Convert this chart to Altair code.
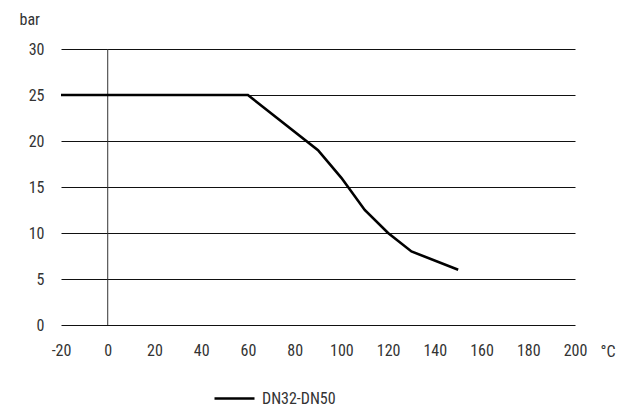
import altair as alt
import pandas as pd

temps = [-20, 60, 90, 100, 110, 120, 130, 150]
pressure = [25, 25, 19, 16, 12.5, 10, 8, 6]
series = "DN32-DN50"
x_ticks = [-20, 0, 20, 40, 60, 80, 100, 120, 140, 160, 180, 200]
y_ticks = [0, 5, 10, 15, 20, 25, 30]

df = pd.DataFrame({"t": temps, "p": pressure, "s": [series] * len(temps)})
zero = pd.DataFrame({"x": [0], "y0": [0], "y1": [30]})

FONT = "Roboto Condensed, DejaVu Sans Condensed, Roboto, sans-serif"
TXT = "#333333"
FS = 16

vline = alt.Chart(zero).mark_rule(color="#333333", strokeWidth=1).encode(
    x=alt.X("x:Q"), y=alt.Y("y0:Q"), y2="y1:Q"
)

line = alt.Chart(df).mark_line(strokeWidth=2.6).encode(
    x=alt.X("t:Q", scale=alt.Scale(domain=[-20, 200], nice=False),
            axis=alt.Axis(values=x_ticks, title="°C", grid=False, ticks=False, domain=False,
                          labelFlush=False,
                          labelExpr="datum.value < 0 ? '-' + abs(datum.value) : '' + datum.value",
                          labelPadding=17, labelFontSize=FS, labelColor=TXT, labelFont=FONT,
                          titleFont=FONT, titleFontSize=FS, titleColor=TXT, titleFontWeight="normal",
                          titleAngle=0, titleX=539, titleY=26, titleAlign="left", titleBaseline="middle")),
    y=alt.Y("p:Q", scale=alt.Scale(domain=[0, 30], nice=False),
            axis=alt.Axis(values=y_ticks, title="bar", grid=True, gridColor="#111111", gridWidth=1,
                          ticks=False, domain=False, labelPadding=17, labelFontSize=FS,
                          labelColor=TXT, labelFont=FONT, titleFont=FONT, titleFontSize=FS,
                          titleColor=TXT, titleFontWeight="normal", titleAngle=0,
                          titleX=-42, titleY=-30, titleAlign="left", titleBaseline="middle")),
    color=alt.Color("s:N", scale=alt.Scale(range=["#000000"]),
                    legend=alt.Legend(title=None, orient="none", legendX=152, legendY=328,
                                      symbolType="stroke", symbolSize=1600, symbolStrokeWidth=2.6,
                                      labelFont=FONT, labelFontSize=FS, labelColor=TXT,
                                      labelOffset=6)),
)

chart = alt.layer(vline, line).properties(
    width=514, height=276,
    autosize=alt.AutoSizeParams(type="none"),
    padding={"left": 53, "top": 41, "right": 41, "bottom": 82},
).configure_view(stroke=None)

chart.save("out.html", embed_options={"renderer": "svg", "actions": False})
